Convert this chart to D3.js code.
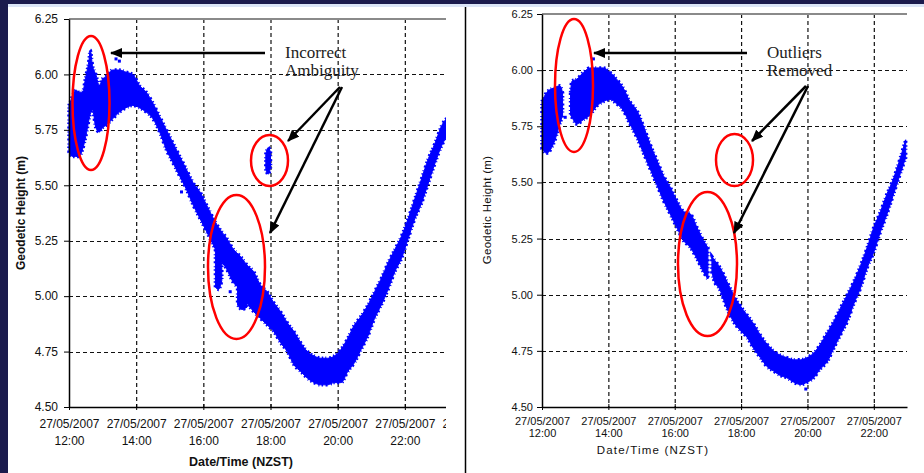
<!DOCTYPE html>
<html>
<head>
<meta charset="utf-8">
<script src="https://cdnjs.cloudflare.com/ajax/libs/d3/7.8.5/d3.min.js"></script>
<style>
  html, body { margin: 0; padding: 0; background: #1b1b4d; }
  svg { display: block; }
</style>
</head>
<body>
<svg id="chart" width="924" height="473"></svg>
<script>
// ---- values ----
const dayStart = new Date(2007, 4, 27); // 27/05/2007 00:00 NZST
const yTicks = [4.5, 4.75, 5.0, 5.25, 5.5, 5.75, 6.0, 6.25];
const leftTickHours = [12, 14, 16, 18, 20, 22, 24];
const rightTickHours = [12, 14, 16, 18, 20, 22];

// scatter envelopes: [hour, lowest height, highest height]
const rawBand = [
  [12.0, 5.65, 5.86], [12.1, 5.63, 5.90], [12.2, 5.63, 5.93], [12.3, 5.63, 5.92],
  [12.4, 5.66, 5.92], [12.5, 5.72, 5.99], [12.6, 5.80, 6.07], [12.63, 5.82, 6.11],
  [12.7, 5.84, 6.04], [12.8, 5.76, 6.00], [12.9, 5.74, 5.95], [13.0, 5.76, 5.98],
  [13.1, 5.77, 5.99], [13.3, 5.80, 6.02], [13.5, 5.83, 6.02], [13.7, 5.85, 6.01],
  [13.9, 5.86, 6.00], [14.1, 5.85, 5.95], [14.3, 5.83, 5.92], [14.5, 5.80, 5.87],
  [14.7, 5.74, 5.81], [14.9, 5.66, 5.75], [15.1, 5.60, 5.69], [15.3, 5.54, 5.63],
  [15.5, 5.48, 5.57], [15.7, 5.41, 5.51], [15.9, 5.35, 5.47], [16.1, 5.29, 5.41],
  [16.3, 5.23, 5.35], [16.5, 5.17, 5.30], [16.7, 5.12, 5.26], [16.9, 5.06, 5.21],
  [17.1, 5.03, 5.18], [17.3, 4.97, 5.14], [17.5, 4.93, 5.11], [17.7, 4.90, 5.05],
  [17.9, 4.87, 5.02], [18.1, 4.84, 4.97], [18.3, 4.79, 4.93], [18.5, 4.75, 4.88],
  [18.7, 4.69, 4.84], [18.9, 4.66, 4.79], [19.1, 4.63, 4.75], [19.3, 4.61, 4.73],
  [19.5, 4.60, 4.72], [19.7, 4.60, 4.72], [19.9, 4.61, 4.73], [20.1, 4.61, 4.76],
  [20.3, 4.66, 4.81], [20.5, 4.70, 4.87], [20.7, 4.76, 4.91], [20.9, 4.82, 4.96],
  [21.1, 4.90, 5.02], [21.3, 4.96, 5.08], [21.5, 5.03, 5.15], [21.7, 5.11, 5.21],
  [21.9, 5.17, 5.27], [22.1, 5.26, 5.35], [22.3, 5.35, 5.44], [22.5, 5.42, 5.53],
  [22.7, 5.51, 5.62], [22.9, 5.60, 5.69], [23.1, 5.68, 5.77], [23.3, 5.73, 5.81]
];
const rawStreakA = [[16.36, 5.04, 5.25], [16.45, 5.03, 5.24], [16.55, 5.07, 5.19]];
const rawStreakB = [[17.02, 4.96, 5.12], [17.15, 4.94, 5.10], [17.3, 4.95, 5.07]];
const rawIsland = [[17.86, 5.57, 5.64], [17.93, 5.55, 5.67], [18.0, 5.58, 5.65]];
const rawStray = [[15.35, 5.47], [16.8, 5.02], [13.4, 6.07], [13.5, 6.06], [18.08, 4.91]];

const cleanBandA = [
  [12.0, 5.65, 5.86], [12.14, 5.63, 5.90], [12.34, 5.67, 5.92], [12.54, 5.76, 5.93],
  [12.62, 5.80, 5.90]
];
const cleanBandB = [
  [12.86, 5.80, 5.90], [12.9, 5.79, 5.95], [13.05, 5.76, 5.96], [13.25, 5.78, 5.99],
  [13.45, 5.80, 6.01], [13.65, 5.84, 6.01], [13.85, 5.86, 6.01], [14.05, 5.87, 5.99],
  [14.25, 5.85, 5.96], [14.45, 5.82, 5.92], [14.65, 5.76, 5.86], [14.86, 5.70, 5.82],
  [15.06, 5.63, 5.75], [15.26, 5.56, 5.67], [15.46, 5.49, 5.60], [15.66, 5.42, 5.53],
  [15.86, 5.36, 5.48], [16.06, 5.30, 5.42], [16.27, 5.24, 5.37], [16.47, 5.21, 5.36],
  [16.67, 5.16, 5.30], [16.87, 5.10, 5.24], [17.0, 5.07, 5.21]
];
const cleanBandC = [
  [17.12, 5.10, 5.17], [17.17, 5.07, 5.16], [17.37, 5.02, 5.12], [17.57, 4.94, 5.06],
  [17.77, 4.88, 5.00], [17.98, 4.84, 4.95], [18.18, 4.81, 4.91], [18.38, 4.76, 4.87],
  [18.58, 4.72, 4.82], [18.78, 4.68, 4.78], [18.98, 4.66, 4.75], [19.18, 4.64, 4.73],
  [19.38, 4.63, 4.72], [19.59, 4.61, 4.71], [19.79, 4.60, 4.71], [19.99, 4.61, 4.72],
  [20.19, 4.63, 4.74], [20.39, 4.67, 4.78], [20.59, 4.70, 4.83], [20.79, 4.76, 4.88],
  [20.99, 4.82, 4.94], [21.2, 4.88, 5.00], [21.4, 4.96, 5.06], [21.6, 5.03, 5.13],
  [21.8, 5.12, 5.21], [22.0, 5.19, 5.30], [22.2, 5.28, 5.37], [22.4, 5.36, 5.45],
  [22.6, 5.45, 5.52], [22.8, 5.54, 5.61], [22.96, 5.61, 5.69]
];
const cleanStray = [[12.7, 5.79], [13.55, 6.05], [15.95, 5.41], [17.45, 4.99], [19.95, 4.58]];

// ---- layout ----
const panels = [
  {
    id: "raw", x0: 69, x1: 472, endHour: 24, clipRight: 446, top: 19, bottom: 407,
    ticks: leftTickHours, bands: [rawBand, rawStreakA, rawStreakB, rawIsland], stray: rawStray,
    font: "'Liberation Sans', Arial, sans-serif", tickSize: 12, tickLine1: 21, tickLine2: 38,
    yLabelX: 58, xTitle: { x: 241, y: 466, size: 12.5, weight: "bold", spacing: 0 },
    yTitle: { x: 25, y: 213, size: 12, weight: "bold", spacing: 0 },
    note: { x: 285, lines: ["Incorrect", "Ambiguity"] },
    ellipses: [[91, 103, 18.5, 67], [269.5, 160.5, 18.5, 25.5], [236.5, 267, 28.5, 72]],
    arrows: [[265, 53, 111, 53], [340, 87, 288, 141], [342, 87, 270, 233]]
  },
  {
    id: "clean", x0: 542, x1: 907, endHour: 23, clipRight: 908, top: 14, bottom: 407,
    ticks: rightTickHours, bands: [cleanBandA, cleanBandB, cleanBandC], stray: cleanStray,
    font: "'Liberation Sans', Arial, sans-serif", tickSize: 11, tickLine1: 18, tickLine2: 30,
    yLabelX: 533, xTitle: { x: 653, y: 454, size: 11.5, weight: "normal", spacing: 1.2 },
    yTitle: { x: 491, y: 210, size: 11.5, weight: "normal", spacing: 0.3 },
    note: { x: 767, lines: ["Outliers", "Removed"] },
    ellipses: [[574, 85.5, 19, 66.5], [734.5, 160, 18.5, 26], [707.5, 264, 29.5, 72]],
    arrows: [[747, 53, 594, 53], [806, 86, 752, 141], [808, 86, 734, 233]]
  }
];

const toDate = h => new Date(dayStart.getTime() + h * 3600 * 1000);
const fmtDay = d3.timeFormat("%d/%m/%Y");
const fmtTime = d3.timeFormat("%H:%M");

const svg = d3.select("#chart");

// frame: dark slide background with white picture area
svg.append("rect").attr("width", 924).attr("height", 473).attr("fill", "#1b1b4d");
svg.append("rect").attr("x", 8).attr("y", 4).attr("width", 916).attr("height", 4).attr("fill", "#dbe5f7");
svg.append("rect").attr("x", 8).attr("y", 7).attr("width", 916).attr("height", 466).attr("fill", "#ffffff");
svg.append("line").attr("x1", 465.5).attr("x2", 465.5).attr("y1", 7).attr("y2", 473)
  .attr("stroke", "#000").attr("stroke-width", 1.5);

const defs = svg.append("defs");
defs.append("marker")
  .attr("id", "head")
  .attr("viewBox", "0 0 12 10")
  .attr("refX", 11).attr("refY", 5)
  .attr("markerWidth", 12).attr("markerHeight", 10)
  .attr("markerUnits", "userSpaceOnUse")
  .attr("orient", "auto")
  .append("path").attr("d", "M0,0 L12,5 L0,10 Z").attr("fill", "#000");

panels.forEach(p => {
  defs.append("clipPath").attr("id", "clip-" + p.id)
    .append("rect").attr("x", p.x0 - 70).attr("y", 7)
    .attr("width", p.clipRight - p.x0 + 70).attr("height", 466);

  const x = d3.scaleTime().domain([toDate(12), toDate(p.endHour)]).range([p.x0, p.x1]);
  const y = d3.scaleLinear().domain([4.5, 6.25]).range([p.bottom, p.top]);

  const g = svg.append("g").attr("clip-path", `url(#clip-${p.id})`);

  // dashed grid
  g.append("g").selectAll("line")
    .data(p.ticks.filter(h => h > 12))
    .join("line")
    .attr("x1", h => x(toDate(h)) + 0.5).attr("x2", h => x(toDate(h)) + 0.5)
    .attr("y1", p.top).attr("y2", p.bottom)
    .attr("stroke", "#111").attr("stroke-width", 1.2).attr("stroke-dasharray", "4,3");
  g.append("g").selectAll("line")
    .data(yTicks.filter(v => v > 4.5 && v < 6.25))
    .join("line")
    .attr("x1", p.x0).attr("x2", p.x1)
    .attr("y1", v => Math.round(y(v)) + 0.5).attr("y2", v => Math.round(y(v)) + 0.5)
    .attr("stroke", "#111").attr("stroke-width", 1.2).attr("stroke-dasharray", "4,3");
  g.append("line")
    .attr("x1", p.x0).attr("x2", p.x1)
    .attr("y1", y(6.25)).attr("y2", y(6.25))
    .attr("stroke", "#8a8a8a").attr("stroke-width", 2);

  // observations: dense scatter drawn as its envelope, edge speckled with a dashed outline
  const area = d3.area()
    .x(d => x(toDate(d[0])))
    .y0(d => y(d[1]))
    .y1(d => y(d[2]))
    .curve(d3.curveMonotoneX);
  const obs = g.append("g");
  obs.selectAll("path.fill")
    .data(p.bands)
    .join("path")
    .attr("class", "fill")
    .attr("d", area)
    .attr("fill", "#0000ff")
    .attr("stroke", "#0000ff")
    .attr("stroke-width", 1)
    .attr("stroke-linejoin", "round");
  obs.selectAll("path.edge")
    .data(p.bands)
    .join("path")
    .attr("class", "edge")
    .attr("d", area)
    .attr("fill", "none")
    .attr("stroke", "#0000ff")
    .attr("stroke-width", 3.5)
    .attr("stroke-dasharray", "1.5,2,1,3,2,2.5");
  obs.selectAll("rect")
    .data(p.stray)
    .join("rect")
    .attr("x", d => x(toDate(d[0])) - 1.5).attr("y", d => y(d[1]) - 1.5)
    .attr("width", 3).attr("height", 3)
    .attr("fill", "#0000ff");

  // axes
  const yAxis = d3.axisLeft(y).tickValues(yTicks).tickSize(5).tickSizeOuter(0)
    .tickFormat(d3.format(".2f"));
  const ya = g.append("g").attr("transform", `translate(${p.x0},0)`).call(yAxis);
  ya.select(".domain").attr("stroke", "#000").attr("stroke-width", 1.5);
  ya.selectAll(".tick line").attr("stroke", "#000");
  ya.selectAll(".tick text")
    .attr("x", p.yLabelX - p.x0)
    .attr("fill", "#111")
    .style("font-family", p.font).style("font-size", p.tickSize + "px");

  const xAxis = d3.axisBottom(x).tickValues(p.ticks.map(toDate)).tickSizeInner(3).tickSizeOuter(0)
    .tickFormat(() => "");
  const xa = g.append("g").attr("transform", `translate(0,${p.bottom})`).call(xAxis);
  xa.select(".domain").attr("stroke", "#000").attr("stroke-width", 1.5);
  xa.selectAll(".tick line").attr("stroke", "#000").attr("y1", -3).attr("y2", 3);
  const lbl = xa.selectAll(".tick text")
    .attr("y", 0).attr("dy", null)
    .attr("fill", "#111")
    .style("font-family", p.font).style("font-size", p.tickSize + "px");
  lbl.append("tspan").attr("x", 0).attr("y", p.tickLine1).text(d => fmtDay(d));
  lbl.append("tspan").attr("x", 0).attr("y", p.tickLine2).text(d => fmtTime(d));

  // axis titles
  svg.append("text")
    .attr("x", p.xTitle.x).attr("y", p.xTitle.y)
    .attr("text-anchor", "middle")
    .style("font-family", p.font).style("font-size", p.xTitle.size + "px")
    .style("font-weight", p.xTitle.weight).style("letter-spacing", p.xTitle.spacing + "px")
    .attr("fill", "#111")
    .text("Date/Time (NZST)");
  svg.append("text")
    .attr("transform", `translate(${p.yTitle.x},${p.yTitle.y}) rotate(-90)`)
    .attr("text-anchor", "middle")
    .style("font-family", p.font).style("font-size", p.yTitle.size + "px")
    .style("font-weight", p.yTitle.weight).style("letter-spacing", p.yTitle.spacing + "px")
    .attr("fill", "#111")
    .text("Geodetic Height (m)");

  // annotations
  svg.append("g").selectAll("ellipse")
    .data(p.ellipses)
    .join("ellipse")
    .attr("cx", d => d[0]).attr("cy", d => d[1]).attr("rx", d => d[2]).attr("ry", d => d[3])
    .attr("fill", "none").attr("stroke", "#ff0000").attr("stroke-width", 2.5);
  svg.append("g").selectAll("line")
    .data(p.arrows)
    .join("line")
    .attr("x1", d => d[0]).attr("y1", d => d[1]).attr("x2", d => d[2]).attr("y2", d => d[3])
    .attr("stroke", "#000").attr("stroke-width", 2.5)
    .attr("marker-end", "url(#head)");
  svg.append("text")
    .attr("x", p.note.x).attr("y", 58)
    .style("font-family", "'Liberation Serif', 'Times New Roman', serif").style("font-size", "17px")
    .attr("fill", "#222")
    .selectAll("tspan")
    .data(p.note.lines)
    .join("tspan")
    .attr("x", p.note.x).attr("dy", (d, i) => i ? 18 : 0)
    .text(d => d);
});
</script>
</body>
</html>
